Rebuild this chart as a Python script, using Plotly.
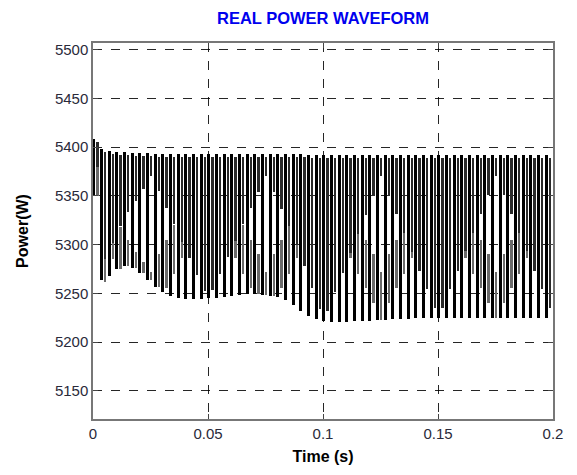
import plotly.graph_objects as go

# ripple period (s): ~60 bars in 0.2 s
period = 1 / 300
n_cycles = 60

# top of each ripple bar (W)
peaks = [5408, 5398, 5396, 5395, 5395, 5394, 5394, 5394, 5393, 5393,
         5393, 5393, 5393, 5393, 5393, 5393, 5393, 5393, 5393, 5393,
         5393, 5393, 5393, 5393, 5393, 5393, 5393, 5393, 5392, 5392,
         5392, 5392, 5392, 5392, 5392, 5392, 5392, 5392, 5392, 5392,
         5392, 5392, 5392, 5392, 5392, 5392, 5392, 5392, 5392, 5392,
         5392, 5392, 5392, 5392, 5392, 5392, 5392, 5392, 5392, 5392]

# bottom of each ripple bar: the lower envelope (W)
troughs = [5350, 5264, 5268, 5275, 5278, 5276, 5271, 5264, 5257, 5251,
           5247, 5245, 5244, 5244, 5244, 5245, 5245, 5246, 5247, 5248,
           5249, 5249, 5248, 5247, 5246, 5243, 5238, 5232, 5227, 5224,
           5222, 5221, 5221, 5221, 5222, 5222, 5222, 5223, 5223, 5224,
           5224, 5224, 5225, 5225, 5225, 5225, 5225, 5225, 5225, 5225,
           5225, 5225, 5225, 5225, 5225, 5225, 5225, 5225, 5225, 5225]

# lower ends of the shorter in-between strokes that form the falling bands (W)
partial_lows = [5380, 5285, 5302, 5319, 5333, 5345, 5357, 5370, 5355, 5338,
                5321, 5303, 5286, 5269, 5252, 5253, 5270, 5287, 5304, 5321,
                5338, 5354, 5370, 5354, 5337, 5319, 5300, 5278, 5256, 5234,
                5232, 5251, 5271, 5291, 5311, 5330, 5350, 5370, 5350, 5331,
                5312, 5292, 5273, 5254, 5235, 5235, 5254, 5273, 5293, 5312,
                5331, 5351, 5370, 5351, 5331, 5312, 5293, 5273, 5254, 5235]

# grey rising band segments: lower and upper ends (W)
band_lows = [5350, 5262, 5285, 5275, 5278, 5276, 5271, 5264, 5257, 5255,
             5270, 5286, 5302, 5318, 5334, 5334, 5318, 5302, 5286, 5270,
             5255, 5249, 5248, 5247, 5255, 5270, 5286, 5302, 5318, 5334,
             5334, 5318, 5302, 5286, 5270, 5255, 5240, 5223, 5240, 5255,
             5270, 5286, 5302, 5318, 5334, 5334, 5318, 5302, 5286, 5270,
             5255, 5240, 5225, 5240, 5255, 5270, 5286, 5302, 5318, 5334]
band_highs = [5395, 5300, 5335, 5318, 5305, 5292, 5282, 5272, 5290, 5305,
              5320, 5336, 5352, 5368, 5384, 5384, 5368, 5352, 5336, 5320,
              5305, 5290, 5272, 5290, 5305, 5320, 5336, 5352, 5368, 5384,
              5384, 5368, 5352, 5336, 5320, 5305, 5290, 5272, 5290, 5305,
              5320, 5336, 5352, 5368, 5384, 5384, 5368, 5352, 5336, 5320,
              5305, 5290, 5272, 5290, 5305, 5320, 5336, 5352, 5368, 5384]

px = 0.2 / 460  # seconds per pixel of the plot area

t_main = [k * period + 0.9 * px for k in range(n_cycles)]
t_part = [(k + 0.5) * period + 0.6 * px for k in range(n_cycles)]

fig = go.Figure()
# grey rising band (drawn under the others)
fig.add_trace(go.Bar(
    x=t_part, base=band_lows,
    y=[band_highs[k] - band_lows[k] for k in range(n_cycles)],
    width=2.2 * px, marker=dict(color="#6a6a6a", line=dict(width=0)),
    showlegend=False, hoverinfo="skip"))
# short strokes hanging from the top
fig.add_trace(go.Bar(
    x=t_part, base=partial_lows,
    y=[peaks[k] - partial_lows[k] - 3 for k in range(n_cycles)],
    width=2.4 * px, marker=dict(color="#2a2a2a", line=dict(width=0)),
    showlegend=False, hoverinfo="skip"))
# full ripple strokes
fig.add_trace(go.Bar(
    x=t_main, base=troughs, y=[peaks[k] - troughs[k] for k in range(n_cycles)],
    width=3.0 * px, marker=dict(color="black", line=dict(width=0)),
    showlegend=False, hoverinfo="skip"))

x_ticks = [0, 0.05, 0.1, 0.15, 0.2]
x_tick_text = ["0", "0.05", "0.1", "0.15", "0.2"]
y_ticks = [5150, 5200, 5250, 5300, 5350, 5400, 5450, 5500]

axis_common = dict(
    showgrid=True, gridcolor="rgba(0,0,0,0.85)", griddash="dash", gridwidth=1,
    showline=True, linecolor="#777", linewidth=1.5, mirror="ticks",
    ticks="inside", ticklen=5, tickcolor="#444",
    zeroline=False,
    tickfont=dict(family="Liberation Sans, Arial", size=15, color="#2a2a3a"),
)

# the page body adds an 8 px offset, so the figure is sized 8 px smaller
fig.update_layout(
    width=569, height=467,
    margin=dict(l=85, r=24, t=35, b=54),
    paper_bgcolor="white", plot_bgcolor="white",
    barmode="overlay", bargap=0,
    title=dict(text="<b>REAL POWER WAVEFORM</b>", x=315 / 569, xanchor="center",
               y=1 - 10 / 467, yanchor="middle",
               font=dict(family="Liberation Sans, Arial", size=16.5, color="#0000ee")),
    xaxis=dict(range=[0, 0.2], tickvals=x_ticks, ticktext=x_tick_text,
               title=dict(text="<b>Time (s)</b>", standoff=10,
                          font=dict(family="Liberation Sans, Arial", size=16, color="black")),
               **axis_common),
    yaxis=dict(range=[5121, 5507], tickvals=y_ticks,
               title=dict(text="<b>Power(W)</b>", standoff=22,
                          font=dict(family="Liberation Sans, Arial", size=16, color="black")),
               **axis_common),
)

fig.write_html("out.html")
